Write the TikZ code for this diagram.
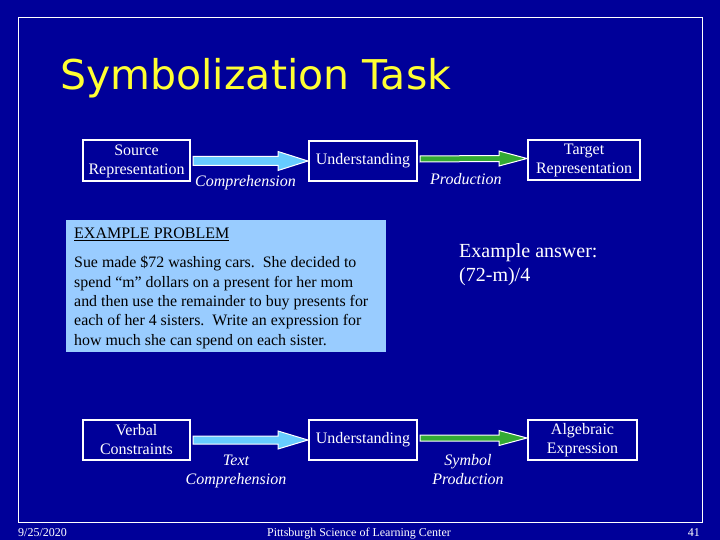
\documentclass[tikz,border=0pt]{standalone}
\usepackage{fontspec}
\setmainfont{Liberation Serif}
\newfontfamily\titlefont{DejaVu Sans}
\usetikzlibrary{calc}
\definecolor{bg}{RGB}{0,0,153}
\definecolor{titleyellow}{RGB}{255,255,51}
\definecolor{arrowcyan}{RGB}{102,204,255}
\definecolor{arrowgreen}{RGB}{51,170,51}
\definecolor{probfill}{RGB}{153,204,255}
\newcommand\fatarrow[7]{% color, from, to, shafthalf, headhalf, headlen, yoffset
  \draw[white, line width=1pt, fill=#1, line join=miter]
    ($(#2.east)+(2,#7-#4)$) -- ($(#3.west)+(-#6,#7-#4)$) -- ($(#3.west)+(-#6,#7-#5)$)
    -- ($(#3.west)+(0,#7)$)
    -- ($(#3.west)+(-#6,#7+#5)$) -- ($(#3.west)+(-#6,#7+#4)$) -- ($(#2.east)+(2,#7+#4)$) -- cycle;}
\tikzset{
  box/.style={draw=white, line width=2pt, fill=bg, text=white, align=center,
    inner sep=0pt, font=\fontsize{16}{19}\selectfont},
  lbl/.style={text=white, inner sep=0pt, align=center, font=\fontsize{16}{19}\selectfont\itshape},
  foot/.style={text=white, inner sep=0pt, font=\fontsize{12}{14}\selectfont},
}
\begin{document}
\begin{tikzpicture}[x=1pt,y=-1pt]
\useasboundingbox (0,0) rectangle (720,540);
\fill[bg] (0,0) rectangle (720,540);
\draw[white, line width=1pt] (18,18) rectangle (702,522);

\node[anchor=base west, inner sep=0pt, text=titleyellow, font=\titlefont\fontsize{41}{48}\selectfont] (title) at (60,90) {Symbolization Task};

% top row
\node[box, minimum width=107pt, minimum height=41pt] (src) at (136.5,161) {Source\\Representation};
\node[box, minimum width=108pt, minimum height=40pt] (und1) at (363,161) {Understanding};
\node[box, minimum width=112pt, minimum height=40pt] (tgt) at (584,160.5) {Target\\Representation};
\fatarrow{arrowcyan}{src}{und1}{4.5}{9.5}{30}{0}
\fatarrow{arrowgreen}{und1}{tgt}{3}{7.5}{28}{-2}
\node[lbl, anchor=base west] (comp1) at (195,187) {Comprehension};
\node[lbl, anchor=base west] (prod1) at (430,185) {Production};

% example problem
\node[fill=probfill, minimum width=320pt, minimum height=132pt, inner sep=0pt] (prob) at (226,286) {};
\node[anchor=base west, inner sep=0pt, text=black, font=\fontsize{16}{19}\selectfont] (probhead) at (74,238.5) {\underline{EXAMPLE PROBLEM}};
\node[anchor=base west, inner sep=0pt, text=black, align=left, font=\fontsize{15.9}{19.3}\selectfont] (probtext) at (74,345)
 {Sue made \$72 washing cars.\ \ She decided to\\spend “m” dollars on a present for her mom\\and then use the remainder to buy presents for\\each of her 4 sisters.\ \ Write an expression for\\how much she can spend on each sister.};

\node[anchor=base west, inner sep=0pt, text=white, align=left, font=\fontsize{20}{24}\selectfont] (answer) at (459,281) {Example answer:\\(72-m)/4};

% bottom row
\node[box, minimum width=107pt, minimum height=40pt] (verb) at (136.5,440) {Verbal\\Constraints};
\node[box, minimum width=108pt, minimum height=40pt] (und2) at (363,440) {Understanding};
\node[box, minimum width=109pt, minimum height=40pt] (alg) at (582.5,440) {Algebraic\\Expression};
\fatarrow{arrowcyan}{verb}{und2}{4}{9}{30}{0}
\fatarrow{arrowgreen}{und2}{alg}{3}{7.5}{28}{-2}
\node[lbl, anchor=base] (comp2) at (236,484) {Text\\Comprehension};
\node[lbl, anchor=base] (prod2) at (468,484) {Symbol\\Production};

% footer
\node[foot, anchor=base west] (date) at (18,536) {9/25/2020};
\node[foot, anchor=base] (center) at (359,536) {Pittsburgh Science of Learning Center};
\node[foot, anchor=base east] (page) at (700,536) {41};
\end{tikzpicture}
\end{document}
